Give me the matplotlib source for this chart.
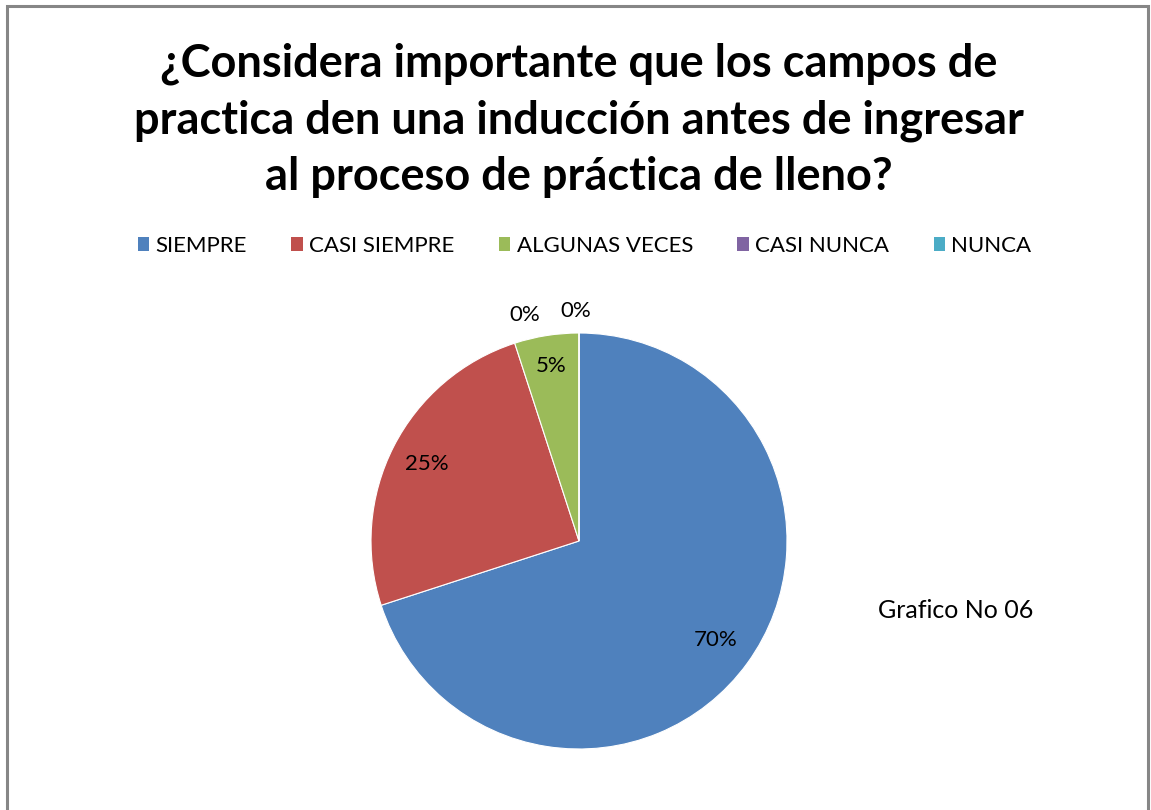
import matplotlib
matplotlib.use('Agg')
import matplotlib.pyplot as plt
from matplotlib.patches import Rectangle, Patch
import numpy as np

plt.rcParams['font.family'] = ['Lato', 'DejaVu Sans']

titulo = '¿Considera importante que los campos de\npractica den una inducción antes de ingresar\nal proceso de práctica de lleno?'
categorias = ['SIEMPRE', 'CASI SIEMPRE', 'ALGUNAS VECES', 'CASI NUNCA', 'NUNCA']
porcentajes = [70, 25, 5, 0, 0]
colores = ['#4F81BD', '#C0504D', '#9BBB59', '#8064A2', '#4BACC6']
nota = 'Grafico No 06'

fig = plt.figure(figsize=(11.51, 8.10), dpi=100)

# marco gris alrededor del grafico
fig.patches.append(Rectangle((7.5 / 1151, -0.05), 1140.5 / 1151, 1 - 6.5 / 810 + 0.05,
                             transform=fig.transFigure, fill=False,
                             edgecolor='#868686', linewidth=2.2))

fig.text(0.503, 1 - 120 / 810, titulo, ha='center', va='center',
         fontsize=32.5, fontweight='bold', linespacing=1.42)

# pie
w, h = 416 / 1151, 416 / 810
ax = fig.add_axes([579 / 1151 - w / 2, 1 - 541 / 810 - h / 2, w, h])
wedges, _ = ax.pie(porcentajes, colors=colores, startangle=90, counterclock=False,
                   radius=1, wedgeprops=dict(linewidth=0.8, edgecolor='white'))
ax.set_xlim(-1, 1)
ax.set_ylim(-1, 1)
ax.set_aspect('equal')
ax.axis('off')

# etiquetas de porcentaje
distancias = [0.81, 0.82, 0.85]
for wdg, p, d in zip(wedges, porcentajes, distancias):
    ang = np.deg2rad((wdg.theta1 + wdg.theta2) / 2)
    ax.text(d * np.cos(ang), d * np.sin(ang), f'{p}%', ha='center', va='center', fontsize=16)
# los 0% quedan fuera del pie
for p, dx, dy in zip(porcentajes[3:], [-0.26, -0.014], [1.087, 1.106]):
    ax.text(dx, dy, f'{p}%', ha='center', va='center', fontsize=16, clip_on=False)

handles = [Patch(facecolor=c, edgecolor='none') for c in colores]
fig.legend(handles, categorias, loc='center', bbox_to_anchor=(0.508, 1 - 246 / 810),
           ncol=5, frameon=False, fontsize=16, handlelength=0.5, handleheight=0.55,
           handletextpad=0.3, columnspacing=2.0)

fig.text(878 / 1151, 1 - 610 / 810, nota, ha='left', va='center', fontsize=18)

fig.savefig('out.png', dpi=100, facecolor='white')
